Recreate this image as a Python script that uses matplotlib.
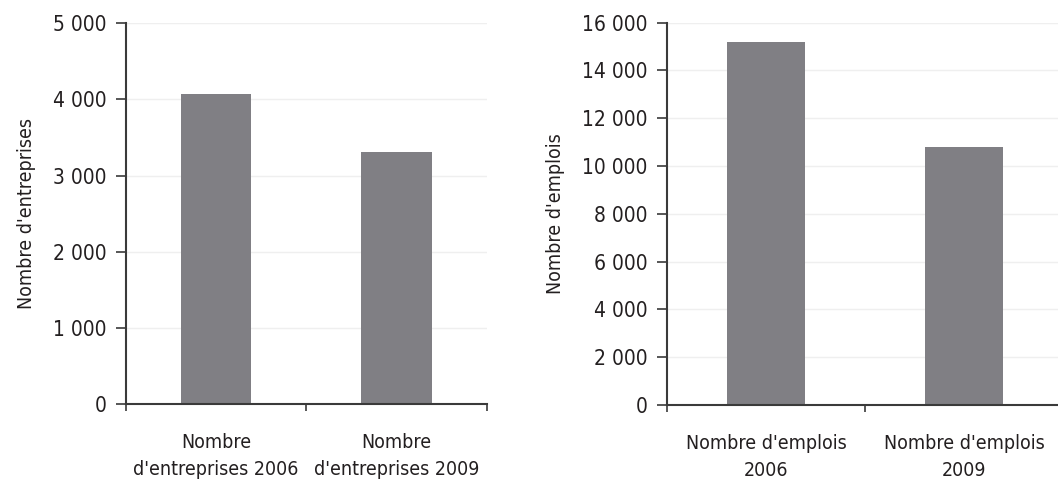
import matplotlib.pyplot as plt
from matplotlib.ticker import FuncFormatter, FixedLocator

plt.rcParams['font.family'] = ['DejaVu Sans']
plt.rcParams['font.stretch'] = 'condensed'

cats_ent = ["Nombre\nd'entreprises 2006", "Nombre\nd'entreprises 2009"]
vals_ent = [4068, 3311]
cats_emp = ["Nombre d'emplois\n2006", "Nombre d'emplois\n2009"]
vals_emp = [15190, 10800]

bar_color = '#807f84'
text_color = '#231f20'
axis_color = '#3a3a3a'


def fmt(v, pos):
    return f'{int(v):,}'.replace(',', ' ')


def draw(ax, cats, vals, ymax, step, ylabel):
    x = range(len(cats))
    ax.bar(x, vals, width=0.39, color=bar_color, zorder=2)
    ax.set_xlim(-0.5, len(cats) - 0.5)
    ax.set_ylim(0, ymax)
    ax.set_yticks(range(0, ymax + 1, step))
    ax.yaxis.set_major_formatter(FuncFormatter(fmt))
    ax.grid(axis='y', color='#efefef', linewidth=1, zorder=0)
    ax.set_xticks(list(x))
    ax.set_xticklabels(cats, fontsize=14, color=text_color, linespacing=1.55)
    ax.xaxis.set_minor_locator(FixedLocator([-0.5, 0.5, 1.5]))
    ax.tick_params(axis='x', which='major', length=0, pad=21)
    ax.tick_params(axis='x', which='minor', length=5, width=1.2, color=axis_color, direction='out')
    ax.tick_params(axis='y', length=7, width=1.2, color=axis_color, labelsize=15,
                   labelcolor=text_color, pad=7)
    for s in ['top', 'right']:
        ax.spines[s].set_visible(False)
    for s in ['left', 'bottom']:
        ax.spines[s].set_color(axis_color)
        ax.spines[s].set_linewidth(1.5)
    ax.set_ylabel(ylabel, fontsize=14, color=text_color, labelpad=12)


fig = plt.figure(figsize=(10.58, 4.83), dpi=100)
ax1 = fig.add_axes([0.119, 0.1636, 0.341, 0.7884])
ax2 = fig.add_axes([0.6304, 0.1615, 0.3743, 0.7915])

draw(ax1, cats_ent, vals_ent, 5000, 1000, "Nombre d'entreprises")
draw(ax2, cats_emp, vals_emp, 16000, 2000, "Nombre d'emplois")

fig.savefig('out.png', dpi=100)
